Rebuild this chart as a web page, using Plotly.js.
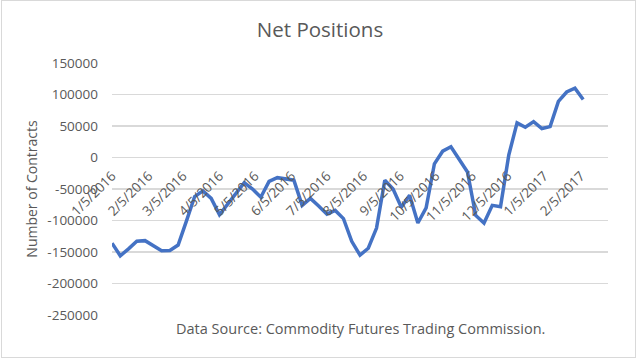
<!DOCTYPE html>
<html>
<head>
<meta charset="utf-8">
<script src="https://cdn.plot.ly/plotly-3.0.1.min.js"></script>
<style>
  html, body { margin: 0; padding: 0; background: #fff; }
  #wrap { position: relative; width: 640px; height: 360px; }
  #chart { position: absolute; left: 0; top: 0; width: 640px; height: 360px; }
  #frame { position: absolute; left: 1px; top: 0px; width: 633px; height: 356px; border: 1px solid #d9d9d9; pointer-events: none; }
</style>
</head>
<body>
<div id="wrap"><div id="chart"></div><div id="frame"></div></div>
<script>
const dates = [
  '2016-01-05','2016-01-12','2016-01-19','2016-01-26',
  '2016-02-02','2016-02-09','2016-02-16','2016-02-23',
  '2016-03-01','2016-03-08','2016-03-15','2016-03-22','2016-03-29',
  '2016-04-05','2016-04-12','2016-04-19','2016-04-26',
  '2016-05-03','2016-05-10','2016-05-17','2016-05-24','2016-05-31',
  '2016-06-07','2016-06-14','2016-06-21','2016-06-28',
  '2016-07-05','2016-07-12','2016-07-19','2016-07-26',
  '2016-08-02','2016-08-09','2016-08-16','2016-08-23','2016-08-30',
  '2016-09-06','2016-09-13','2016-09-20','2016-09-27',
  '2016-10-04','2016-10-11','2016-10-18','2016-10-25',
  '2016-11-01','2016-11-08','2016-11-15','2016-11-22','2016-11-29',
  '2016-12-06','2016-12-13','2016-12-20','2016-12-27',
  '2017-01-03','2017-01-10','2017-01-17','2017-01-24','2017-01-31',
  '2017-02-07'
];
const netPositions = [
  -136000,-156000,-145000,-133000,
  -132000,-140000,-148000,-147500,
  -139000,-101000,-62000,-53000,-65000,
  -91000,-73000,-57000,-40000,
  -50000,-63000,-38000,-32000,-34000,
  -36000,-76000,-65000,-77000,
  -90000,-84000,-97000,-133000,
  -155000,-144000,-112000,-36000,-50000,
  -79000,-60000,-104000,-80000,
  -10000,10000,17000,-3000,
  -23000,-92000,-104000,-76000,-78000,
  4000,55000,48000,57000,
  46000,49000,89000,104000,110000,
  92000
];
const xTickVals = [
  '2016-01-05','2016-02-05','2016-03-05','2016-04-05','2016-05-05','2016-06-05','2016-07-05',
  '2016-08-05','2016-09-05','2016-10-05','2016-11-05','2016-12-05','2017-01-05','2017-02-05'
];
const xTickText = [
  '1/5/2016','2/5/2016','3/5/2016','4/5/2016','5/5/2016','6/5/2016','7/5/2016',
  '8/5/2016','9/5/2016','10/5/2016','11/5/2016','12/5/2016','1/5/2017','2/5/2017'
];
const yTickVals = [-250000,-200000,-150000,-100000,-50000,0,50000,100000,150000];
const yTickText = ['-250000','-200000','-150000','-100000','-50000','0','50000','100000','150000'];
const yMin = -250000, yMax = 150000;

const fontFam = '"Open Sans", "DejaVu Sans", sans-serif';
const grey = '#595959';

const trace = {
  x: dates,
  y: netPositions,
  type: 'scatter',
  mode: 'lines',
  line: { color: '#4472C4', width: 3.5, shape: 'linear' },
  hoverinfo: 'skip'
};

const layout = {
  width: 640,
  height: 360,
  margin: { l: 112, r: 32, t: 63, b: 45 },
  paper_bgcolor: '#ffffff',
  plot_bgcolor: '#ffffff',
  showlegend: false,
  title: {
    text: 'Net Positions',
    font: { family: fontFam, size: 20.5, color: grey },
    x: 0.5, xref: 'container', xanchor: 'center',
    y: 0.918, yref: 'container', yanchor: 'middle'
  },
  xaxis: {
    type: 'date',
    range: ['2016-01-05', '2017-02-28'],
    tickvals: xTickVals,
    ticktext: xTickText,
    tickangle: -45,
    tickfont: { family: fontFam, size: 13.5, color: grey },
    ticklabelstandoff: 7,
    showgrid: false,
    zeroline: false,
    showline: false,
    ticks: '',
    anchor: 'free',
    position: (0 - yMin) / (yMax - yMin),
    side: 'bottom'
  },
  yaxis: {
    range: [yMin, yMax],
    tickvals: yTickVals,
    ticktext: yTickText,
    tickfont: { family: fontFam, size: 13.5, color: grey },
    showgrid: true,
    gridcolor: '#d9d9d9',
    gridwidth: 1.3,
    zeroline: false,
    showline: false,
    ticks: '',
    ticklabelstandoff: 13,
    title: {
      text: 'Number of Contracts',
      font: { family: fontFam, size: 14, color: grey },
      standoff: 6
    }
  },
  annotations: [{
    text: 'Data Source: Commodity Futures Trading Commission.',
    xref: 'paper', yref: 'paper',
    x: 0.5, y: -0.055,
    xanchor: 'center', yanchor: 'middle',
    showarrow: false,
    font: { family: fontFam, size: 14.5, color: grey }
  }]
};

Plotly.newPlot('chart', [trace], layout, { staticPlot: true, displayModeBar: false });
</script>
</body>
</html>
